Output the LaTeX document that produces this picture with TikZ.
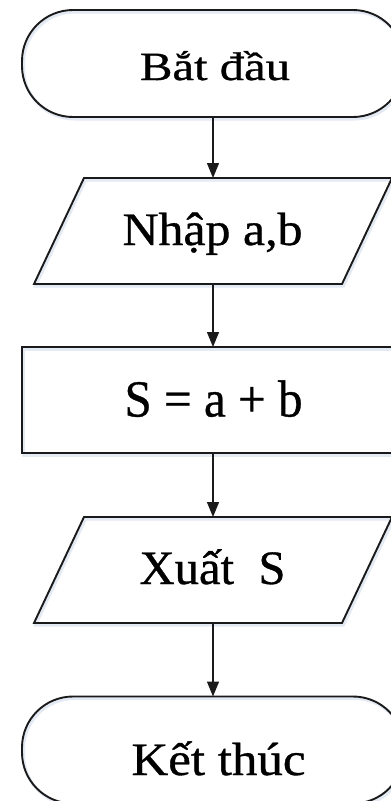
\documentclass[tikz,border=0pt]{standalone}
\usepackage{fontspec}
\setmainfont{Liberation Serif}
\newfontfamily\dfont[FakeBold=0.7]{Liberation Serif}
\usetikzlibrary{arrows.meta}
\newcommand{\fittext}[3]{\resizebox{#1pt}{\height}{\fontsize{#2}{#2}\dfont #3}}
\definecolor{linec}{HTML}{1A1A1A}
\definecolor{shadowc}{HTML}{E4EAF4}
\begin{document}
\begin{tikzpicture}[x=1pt,y=-1pt,
  shad/.style={preaction={draw=shadowc, line width=3pt, transform canvas={xshift=1.5pt,yshift=-2pt}}},
  term/.style={draw=linec, line width=1.9pt, rounded corners=51pt, inner sep=0pt, outer sep=0pt,
    minimum width=382pt, minimum height=107pt, shad},
  procbox/.style={draw=linec, line width=1.9pt, inner sep=0pt, outer sep=0pt,
    minimum width=382pt, minimum height=106pt, shad},
  frame/.style={draw=none, inner sep=0pt, outer sep=0pt, minimum width=358pt, minimum height=106pt},
  para/.style={draw=linec, line width=1.9pt, line join=miter, shad},
  conn/.style={draw=linec, line width=1.3pt, -{Triangle[width=12pt,length=15pt]}},
  txt/.style={anchor=base, inner sep=0pt, text=black}]
\clip (0,0) rectangle (391,801);
\fill[white] (0,0) rectangle (391,801);
% shapes
\node[term] (start) at (213,63.5) {};
\node[frame] (in) at (213,231) {};
\draw[para] (in.south west) -- ([xshift=-50pt]in.south east) -- (in.north east) -- ([xshift=50pt]in.north west) -- cycle;
\node[procbox] (proc) at (213,400) {};
\node[frame] (out) at (213,570) {};
\draw[para] (out.south west) -- ([xshift=-50pt]out.south east) -- (out.north east) -- ([xshift=50pt]out.north west) -- cycle;
\node[term] (stop) at (213,750) {};
% texts
\node[txt] (t1) at (215,80) {\fittext{150}{40}{Bắt đầu}};
\node[txt] (t2) at (212.5,245) {\fittext{180}{46.5}{Nhập a,b}};
\node[txt] (t3) at (213.5,416.5) {\fittext{178}{52}{S = a + b}};
\node[txt] (t4) at (212.5,584) {\fittext{146}{48}{Xuất\ \ S}};
\node[txt] (t5) at (218.5,775) {\fittext{174}{46.5}{Kết thúc}};
% connectors
\draw[conn] (start.south) -- (in.north);
\draw[conn] (in.south) -- (proc.north);
\draw[conn] (proc.south) -- (out.north);
\draw[conn] (out.south) -- (stop.north);
\end{tikzpicture}
\end{document}
